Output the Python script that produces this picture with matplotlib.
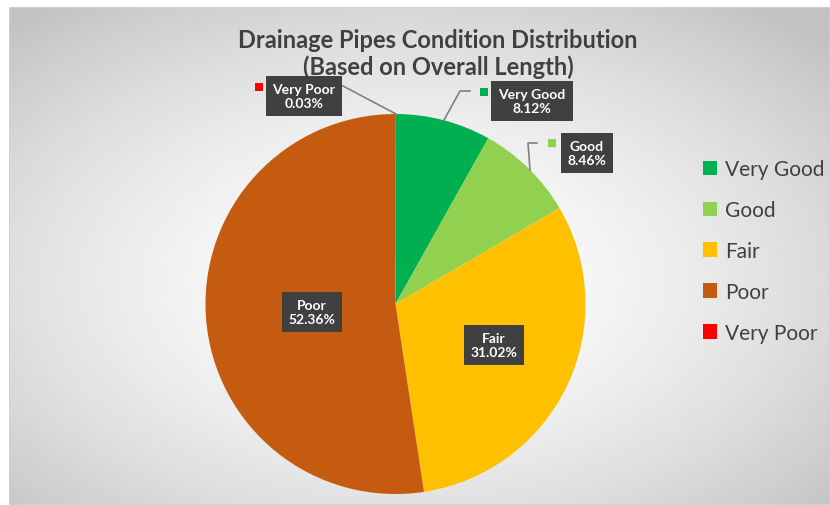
import numpy as np
import matplotlib
matplotlib.use('Agg')
import matplotlib.pyplot as plt
from matplotlib.patches import Rectangle

plt.rcParams['font.family'] = ['Lato', 'DejaVu Sans']

# Data
categories = ['Very Good', 'Good', 'Fair', 'Poor', 'Very Poor']
shares = [8.12, 8.46, 31.02, 52.36, 0.03]
colors = ['#00b050', '#92d050', '#ffc000', '#c55a11', '#ff0000']
title = 'Drainage Pipes Condition Distribution\n(Based on Overall Length)'

W, H = 830, 506
fig = plt.figure(figsize=(W / 100, H / 100), dpi=100)

# background gradient for the chart area
bg = fig.add_axes([9 / W, 0, (W - 9) / W, (H - 8) / H])
bg.set_axis_off()
yy, xx = np.mgrid[0:1:300j, 0:1:500j]
r = np.sqrt(((xx - 0.48) / 0.5) ** 2 + ((yy - 0.55) / 0.5) ** 2) / np.sqrt(2)
grad = 1 - 0.24 * np.clip(r, 0, 1) ** 1.6
bg.imshow(grad, cmap='gray', vmin=0, vmax=1, aspect='auto',
          extent=[0, 1, 0, 1], interpolation='bilinear')
bg.set_xlim(0, 1)
bg.set_ylim(0, 1)
bg.add_patch(Rectangle((0, 0), 1, 1, fill=False, edgecolor='#d0d0d0', lw=1.2,
                       transform=bg.transAxes))

# pie axes: data units = pie radius, centre at pixel (395.5, 305)
cx, cy, R = 395.5, 305, 190
ax = fig.add_axes([0, 0, 1, 1])


def px(x, y):
    return (x - cx) / R, (cy - y) / R


wedges, _ = ax.pie(shares, colors=colors, startangle=90, counterclock=False,
                   radius=1, center=(0, 0), frame=True,
                   wedgeprops=dict(linewidth=0))
ax.set_xlim(-cx / R, (W - cx) / R)
ax.set_ylim(-(H - cy) / R, cy / R)
ax.set_aspect('equal')
ax.set_axis_off()

box = dict(boxstyle='square,pad=0.5', facecolor='#404040', edgecolor='none')

# label placement (pixel positions of label centres)
label_pos = {
    'Very Good': (532, 102),
    'Good': (587, 154),
    'Fair': (494, 346),
    'Poor': (312, 313),
    'Very Poor': (304, 97),
}

for name, val in zip(categories, shares):
    lx, ly = px(*label_pos[name])
    ax.text(lx, ly, f'{name}\n{val:.2f}%', ha='center', va='center',
            color='white', fontsize=10, fontweight='bold', linespacing=1.2,
            bbox=box, zorder=5)

# small colour keys next to the outside labels
keys = {'Very Good': (484, 93), 'Good': (552, 144), 'Very Poor': (259, 88)}
for name, (kx, ky) in keys.items():
    x0, y0 = px(kx - 4, ky + 4)
    ax.add_patch(Rectangle((x0, y0), 8 / R, 8 / R,
                           facecolor=colors[categories.index(name)],
                           edgecolor='none', zorder=6))

# leader lines
lc = '#808080'
for pts in ([(444, 121), (460, 92), (470, 92)],
            [(530, 171), (528, 144), (537, 144)],
            [(396, 115), (343, 87)]):
    xs, ys = zip(*[px(*p) for p in pts])
    ax.plot(xs, ys, color=lc, lw=1.2, zorder=4)

fig.text(438 / W, 1 - 54 / H, title, ha='center', va='center',
         fontsize=17, fontweight='bold', color='#404040', linespacing=1.2)

# legend
handles = [Rectangle((0, 0), 1, 1, facecolor=c, edgecolor='none') for c in colors]
fig.legend(handles, categories, loc='center left',
           bbox_to_anchor=(684 / W, 1 - 252 / H), frameon=False,
           fontsize=15, labelcolor='#404040', handlelength=0.7,
           handleheight=0.7, handletextpad=0.35, labelspacing=1.0)

fig.savefig('out.png', dpi=100)
